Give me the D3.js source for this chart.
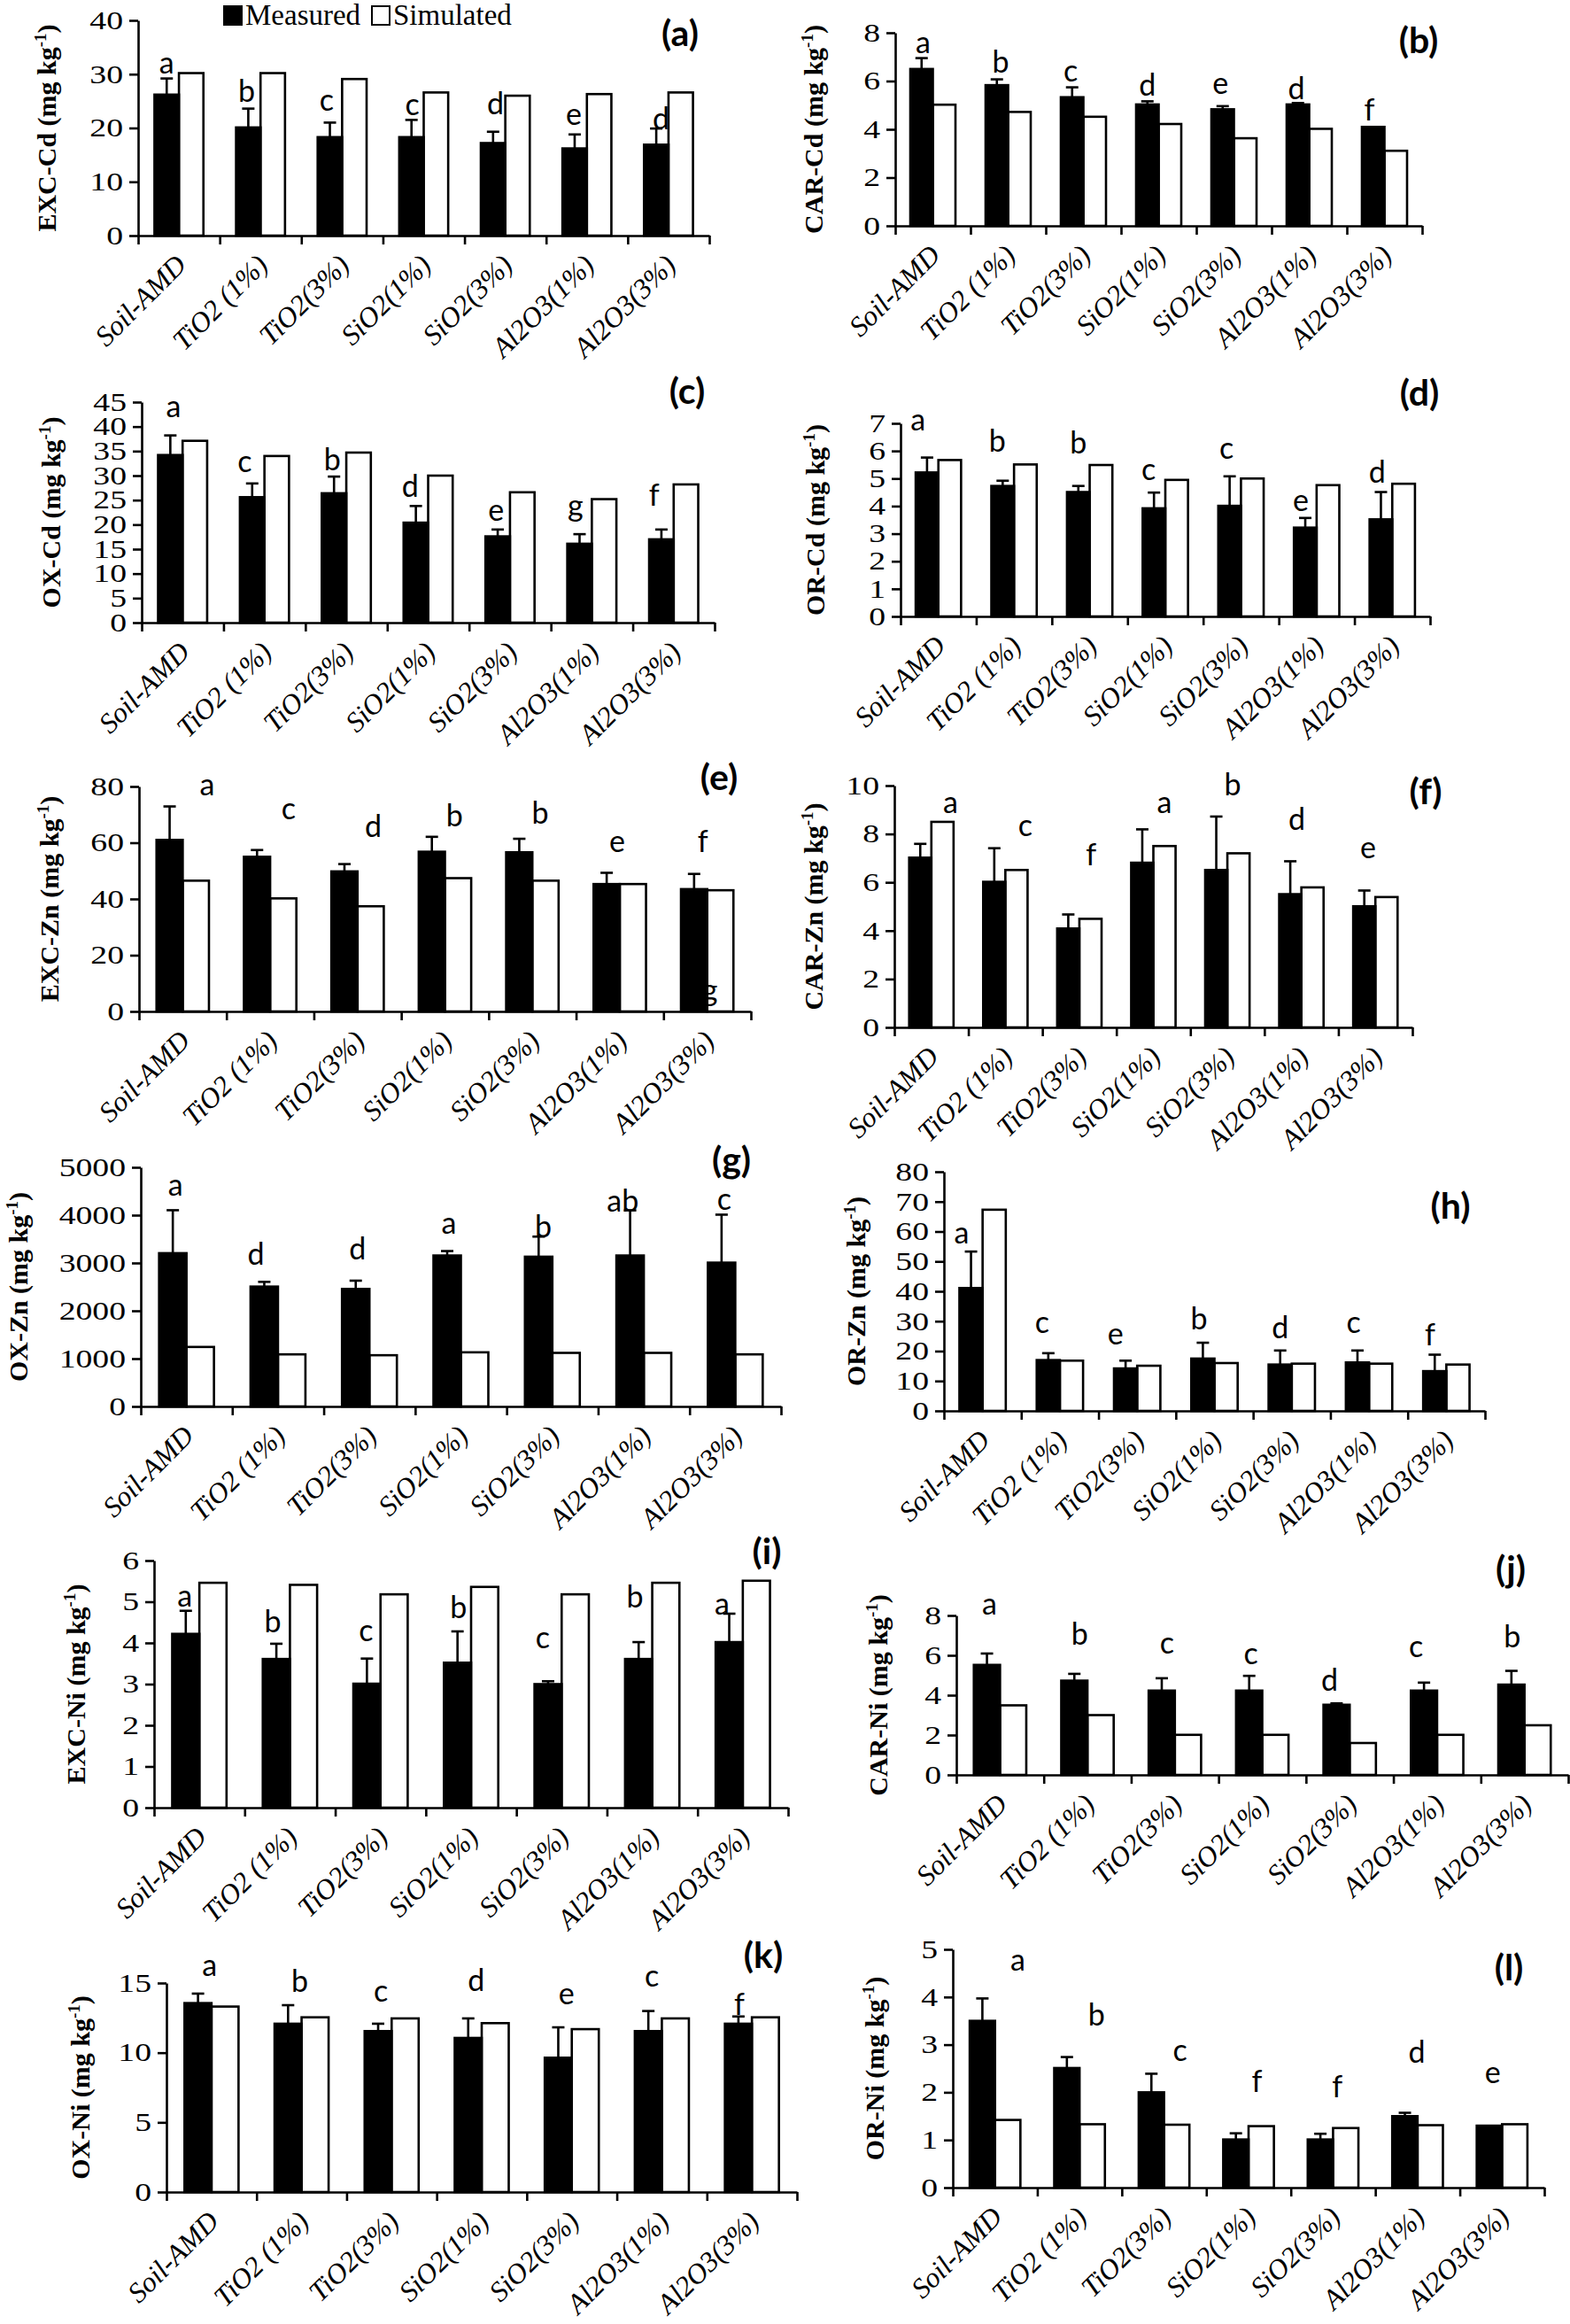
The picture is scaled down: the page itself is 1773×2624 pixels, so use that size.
<!DOCTYPE html>
<html><head><meta charset="utf-8">
<script src="https://cdnjs.cloudflare.com/ajax/libs/d3/7.8.5/d3.min.js"></script>
<style>body{margin:0;background:#fff}svg{display:block}</style>
</head><body>
<svg id="chart" width="1773" height="2624"></svg>
<script>
// ---------- DATA ----------
const categories = ["Soil-AMD","TiO2 (1%)","TiO2(3%)","SiO2(1%)","SiO2(3%)","Al2O3(1%)","Al2O3(3%)"];
const seriesNames = ["Measured","Simulated"];
const panelIds = ["a","b","c","d","e","f","g","h","i","j","k","l"];
const yTitles = ["EXC-Cd","CAR-Cd","OX-Cd","OR-Cd","EXC-Zn","CAR-Zn","OX-Zn","OR-Zn","EXC-Ni","CAR-Ni","OX-Ni","OR-Ni"];

const measured_a = [26.2,20.1,18.3,18.3,17.2,16.2,16.9];
const error_a    = [3.0,3.5,2.7,3.2,2.1,2.6,3.0];
const simulated_a= [30.2,30.2,29.1,26.6,26.0,26.3,26.6];
const letters_a  = ["a","b","c","c","d","e","d"];
const ticks_a    = [0,10,20,30,40];

const measured_b = [6.5,5.83,5.33,5.03,4.83,5.03,4.1];
const error_b    = [0.45,0.24,0.41,0.13,0.13,0.06,0];
const simulated_b= [5.02,4.72,4.52,4.22,3.63,4.02,3.11];
const letters_b  = ["a","b","c","d","e","d","f"];
const ticks_b    = [0,2,4,6,8];

const measured_c = [34.2,25.6,26.4,20.4,17.6,16.1,17.0];
const error_c    = [4.0,2.8,3.4,3.4,1.4,1.95,2.0];
const simulated_c= [37.1,34.0,34.7,30.0,26.6,25.2,28.2];
const letters_c  = ["a","c","b","d","e","g","f"];
const ticks_c    = [0,5,10,15,20,25,30,35,40,45];

const measured_d = [5.22,4.73,4.51,3.92,4.01,3.22,3.52];
const error_d    = [0.54,0.19,0.22,0.57,1.07,0.35,0.99];
const simulated_d= [5.67,5.51,5.49,4.95,5.0,4.76,4.81];
const letters_d  = ["a","b","b","c","c","e","d"];
const ticks_d    = [0,1,2,3,4,5,6,7];

const measured_e = [61.0,55.0,49.8,56.8,56.6,45.3,43.5];
const error_e    = [11.9,2.4,2.6,5.3,4.8,4.0,5.4];
const simulated_e= [46.5,40.2,37.4,47.4,46.5,45.3,43.1];
const letters_e  = ["a","c","d","b","b","e","f"];
const ticks_e    = [0,20,40,60,80];

const measured_f = [7.02,6.02,4.09,6.81,6.51,5.51,5.01];
const error_f    = [0.57,1.39,0.58,1.38,2.21,1.36,0.65];
const simulated_f= [8.5,6.51,4.49,7.5,7.2,5.79,5.39];
const letters_f  = ["a","c","f","a","b","d","e"];
const ticks_f    = [0,2,4,6,8,10];

const measured_g = [3205,2506,2457,3156,3131,3156,3007];
const error_g    = [898,99,173,93,420,944,1003];
const simulated_g= [1244,1089,1071,1132,1120,1120,1089];
const letters_g  = ["a","d","d","a","b","ab","c"];
const ticks_g    = [0,1000,2000,3000,4000,5000];

const measured_h = [41.1,17.0,14.2,17.5,15.5,16.2,13.3];
const error_h    = [12.2,2.3,2.6,5.3,4.7,4.0,5.5];
const simulated_h= [67.3,16.8,15.1,16.0,15.8,15.8,15.5];
const letters_h  = ["a","c","e","b","d","c","f"];
const ticks_h    = [0,10,20,30,40,50,60,70,80];

const measured_i = [4.22,3.61,3.01,3.52,3.0,3.61,4.02];
const error_i    = [0.56,0.37,0.61,0.76,0.07,0.41,0.69];
const simulated_i= [5.46,5.41,5.18,5.36,5.18,5.46,5.51];
const letters_i  = ["a","b","c","b","c","b","a"];
const ticks_i    = [0,1,2,3,4,5,6];

const measured_j = [5.52,4.73,4.23,4.23,3.52,4.23,4.53];
const error_j    = [0.57,0.34,0.62,0.74,0.07,0.4,0.69];
const simulated_j= [3.49,3.0,2.01,2.01,1.6,2.01,2.49];
const letters_j  = ["a","b","c","c","d","c","b"];
const ticks_j    = [0,2,4,6,8];

const measured_k = [13.56,12.08,11.55,11.06,9.64,11.55,12.08];
const error_k    = [0.68,1.33,0.53,1.4,2.18,1.44,0.52];
const simulated_k= [13.31,12.54,12.46,12.12,11.69,12.46,12.54];
const letters_k  = ["a","b","c","d","e","c","f"];
const ticks_k    = [0,5,10,15];

const measured_l = [3.5,2.51,2.0,1.01,1.01,1.5,1.3];
const error_l    = [0.47,0.23,0.39,0.13,0.12,0.07,0];
const simulated_l= [1.42,1.33,1.32,1.29,1.25,1.31,1.33];
const letters_l  = ["a","b","c","f","f","d","e"];
const ticks_l    = [0,1,2,3,4,5];

const extraLetters_e = ["g"];

// ---------- LAYOUT (positions / styles only) ----------
const layout = {
  a:{x0:156,x1:801,yTop:23,y0:266,tcx:52,lx:768,ly:52,
     lAt:[30.2,24.8,23.2,22.4,22.5,20.6,19.8],lDx:[0.35,0.33,0.31,0.36,0.38,0.34,0.41]},
  b:{x0:1011,x1:1606,yTop:37,y0:255,tcx:918,lx:1602,ly:60,
     lAt:[7.17,6.36,6.0,5.39,5.45,5.24,4.37],lDx:[0.37,0.40,0.33,0.35,0.32,0.33,0.30]},
  c:{x0:160,x1:807,yTop:454,y0:703,tcx:57,lx:776,ly:456,
     lAt:[41.9,30.7,31.0,25.6,20.8,21.6,23.8],lDx:[0.39,0.26,0.33,0.28,0.33,0.30,0.26]},
  d:{x0:1017,x1:1615,yTop:478,y0:696,tcx:920,lx:1603,ly:458,
     lAt:[6.73,5.97,5.92,4.95,5.73,3.81,4.84],lDx:[0.23,0.28,0.35,0.28,0.31,0.29,0.30]},
  e:{x0:157,x1:848,yTop:888,y0:1142,tcx:55,lx:812,ly:892,
     lAt:[76.8,68.4,62.1,65.8,66.8,56.8,56.8],lDx:[0.78,0.71,0.68,0.61,0.59,0.47,0.45],
     extra:[{i:6,dx:0.53,at:3.7}]},
  f:{x0:1010,x1:1595,yTop:887,y0:1160,tcx:918,lx:1610,ly:908,
     lAt:[8.88,7.92,6.7,8.88,9.6,8.16,7.0],lDx:[0.76,0.77,0.66,0.65,0.57,0.44,0.40]},
  g:{x0:159,x1:882,yTop:1318,y0:1588,tcx:20,lx:826,ly:1324,
     lAt:[4412,2958,3082,3608,3546,4072,4103],lDx:[0.38,0.26,0.37,0.37,0.40,0.27,0.38]},
  h:{x0:1066,x1:1677,yTop:1323,y0:1593,tcx:966,lx:1638,ly:1376,
     lAt:[55.9,26.2,22.3,27.2,24.3,26.2,21.8],lDx:[0.23,0.27,0.22,0.30,0.35,0.30,0.29]},
  i:{x0:174,x1:890,yTop:1762,y0:2041,tcx:85,lx:866,ly:1766,
     lAt:[4.89,4.25,4.04,4.61,3.87,4.87,4.68],lDx:[0.34,0.31,0.34,0.36,0.29,0.31,0.27]},
  j:{x0:1080,x1:1771,yTop:1824,y0:2004,tcx:991,lx:1706,ly:1786,
     lAt:[8.03,6.52,6.1,5.55,4.22,5.89,6.4],lDx:[0.38,0.41,0.41,0.37,0.27,0.26,0.36]},
  k:{x0:188,x1:900,yTop:2239,y0:2475,tcx:90,lx:862,ly:2222,
     lAt:[15.53,14.34,13.67,14.41,13.45,14.77,12.71],lDx:[0.48,0.48,0.38,0.44,0.44,0.39,0.36]},
  l:{x0:1076,x1:1744,yTop:2201,y0:2470,tcx:987,lx:1704,ly:2236,
     lAt:[4.55,3.40,2.66,2.01,1.89,2.63,2.20],lDx:[0.77,0.70,0.69,0.60,0.55,0.49,0.39]}
};

const dataOf = {
  a:[measured_a,error_a,simulated_a,letters_a,ticks_a],
  b:[measured_b,error_b,simulated_b,letters_b,ticks_b],
  c:[measured_c,error_c,simulated_c,letters_c,ticks_c],
  d:[measured_d,error_d,simulated_d,letters_d,ticks_d],
  e:[measured_e,error_e,simulated_e,letters_e,ticks_e],
  f:[measured_f,error_f,simulated_f,letters_f,ticks_f],
  g:[measured_g,error_g,simulated_g,letters_g,ticks_g],
  h:[measured_h,error_h,simulated_h,letters_h,ticks_h],
  i:[measured_i,error_i,simulated_i,letters_i,ticks_i],
  j:[measured_j,error_j,simulated_j,letters_j,ticks_j],
  k:[measured_k,error_k,simulated_k,letters_k,ticks_k],
  l:[measured_l,error_l,simulated_l,letters_l,ticks_l]
};

const SERIF = "'Liberation Serif','Times New Roman',serif";
const SANS = "Lato,'Open Sans',sans-serif";
const LW = 2.6;
const TICK_SX = 1.3;

const svg = d3.select("#chart");

panelIds.forEach((id, pi) => {
  const L = layout[id];
  const [meas, err, sim, lets, ticks] = dataOf[id];
  const g = svg.append("g").attr("class","panel-"+id);

  const x = d3.scaleBand().domain(categories).range([L.x0, L.x1]).padding(0);
  const xb = d3.scaleLinear().domain([0, categories.length]).range([L.x0, L.x1]);
  const y = d3.scaleLinear().domain([0, d3.max(ticks)]).range([L.y0, L.yTop]);
  const bw = x.bandwidth() * 0.3, off = x.bandwidth() * 0.2;

  g.selectAll("rect.sim").data(sim).join("rect").attr("class","sim")
    .attr("x",(d,i)=>x(categories[i])+off+bw).attr("y",d=>y(d))
    .attr("width",bw).attr("height",d=>y(0)-y(d))
    .attr("fill","#fff").attr("stroke","#000").attr("stroke-width",LW);
  g.selectAll("rect.meas").data(meas).join("rect").attr("class","meas")
    .attr("x",(d,i)=>x(categories[i])+off).attr("y",d=>y(d))
    .attr("width",bw).attr("height",d=>y(0)-y(d))
    .attr("fill","#000").attr("stroke","#000").attr("stroke-width",LW);
  const eb = g.selectAll("g.err").data(meas.map((m,i)=>({m,e:err[i],i})).filter(d=>d.e>0)).join("g");
  eb.append("line")
    .attr("x1",d=>x(categories[d.i])+off+bw/2).attr("x2",d=>x(categories[d.i])+off+bw/2)
    .attr("y1",d=>y(d.m)).attr("y2",d=>y(d.m+d.e)).attr("stroke","#000").attr("stroke-width",LW);
  eb.append("line")
    .attr("x1",d=>x(categories[d.i])+off+bw/2-7).attr("x2",d=>x(categories[d.i])+off+bw/2+7)
    .attr("y1",d=>y(d.m+d.e)).attr("y2",d=>y(d.m+d.e)).attr("stroke","#000").attr("stroke-width",LW);

  const ya = g.append("g").attr("transform",`translate(${L.x0},0)`)
    .call(d3.axisLeft(y).tickValues(ticks).tickSize(10).tickSizeOuter(0).tickPadding(6).tickFormat(d3.format("d")));
  const xa = g.append("g").attr("transform",`translate(0,${L.y0})`)
    .call(d3.axisBottom(xb).tickValues(d3.range(categories.length+1)).tickSize(10).tickSizeOuter(0).tickFormat(""));
  [ya, xa].forEach(a => {
    a.select(".domain").attr("stroke","#000").attr("stroke-width",LW);
    a.selectAll(".tick line").attr("stroke","#000").attr("stroke-width",LW);
  });
  ya.selectAll(".tick text").attr("font-family",SERIF).attr("font-size",29).attr("fill","#000")
    .attr("x",-17/TICK_SX).attr("transform",`scale(${TICK_SX},1)`);

  g.selectAll("text.cat").data(categories).join("text").attr("class","cat")
    .attr("transform",d=>`translate(${x(d)+x.bandwidth()/2+10},${L.y0+35}) rotate(-45)`)
    .attr("text-anchor","end").attr("font-family",SERIF).attr("font-style","italic")
    .attr("font-size",32).text(d=>d);

  g.selectAll("text.let").data(lets).join("text").attr("class","let")
    .attr("x",(d,i)=>x(categories[i])+x.bandwidth()*L.lDx[i]).attr("y",(d,i)=>y(L.lAt[i]))
    .attr("text-anchor","middle").attr("font-family",SANS).attr("font-size",34).text(d=>d);
  if (L.extra) {
    g.selectAll("text.ext").data(L.extra).join("text").attr("class","ext")
      .attr("x",d=>x(categories[d.i])+x.bandwidth()*d.dx).attr("y",d=>y(d.at))
      .attr("text-anchor","middle").attr("font-family",SANS).attr("font-size",34)
      .text((d,k)=>extraLetters_e[k]);
  }

  const t = g.append("text")
    .attr("transform",`translate(${L.tcx},${(L.y0+L.yTop)/2}) rotate(-90)`)
    .attr("text-anchor","middle").attr("dy","0.35em")
    .attr("font-family",SERIF).attr("font-weight","bold").attr("font-size",30);
  t.append("tspan").text(yTitles[pi] + " (mg kg");
  t.append("tspan").attr("dy",-11).attr("font-size",19).text("-1");
  t.append("tspan").attr("dy",11).text(")");

  g.append("text").attr("x",L.lx).attr("y",L.ly).attr("text-anchor","middle")
    .attr("font-family",SANS).attr("font-weight","bold").attr("font-size",41).text(`(${id})`);
});

const lg = svg.append("g").attr("class","legend");
const legendX = [253, 420];
seriesNames.forEach((s, i) => {
  lg.append("rect").attr("x",legendX[i]).attr("y",7).attr("width",20).attr("height",21)
    .attr("fill", i===0 ? "#000" : "#fff").attr("stroke","#000").attr("stroke-width",2);
  lg.append("text").attr("x",legendX[i]+24).attr("y",28).attr("font-family",SERIF)
    .attr("font-size",33).text(s);
});
</script>
</body></html>
